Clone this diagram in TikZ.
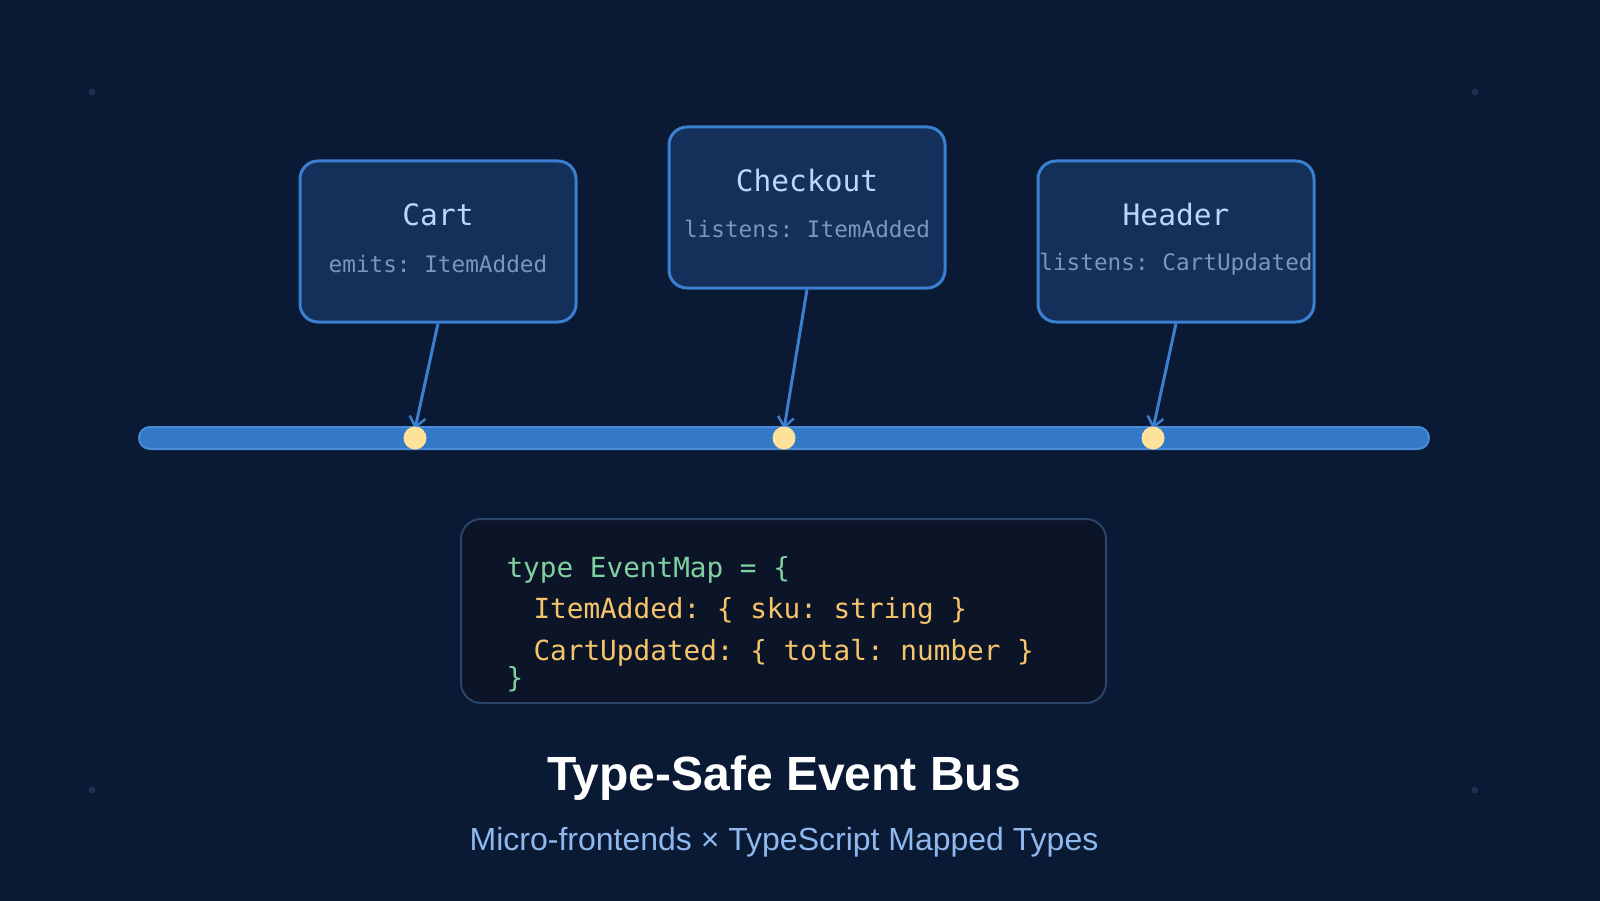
\documentclass[tikz,border=0pt]{standalone}
\usepackage{fontspec}
\setmainfont{Liberation Sans}
\newfontfamily\codefont{DejaVu Sans Mono}
\usetikzlibrary{arrows.meta}
\frenchspacing
\definecolor{bg}{HTML}{0A1A35}
\definecolor{boxfill}{HTML}{132F5A}
\definecolor{boxline}{HTML}{3A7FD0}
\definecolor{ttl}{HTML}{BCD6FA}
\definecolor{sub}{HTML}{7D96B8}
\definecolor{bus}{HTML}{3478C8}
\definecolor{busline}{HTML}{4A8AD6}
\definecolor{dot}{HTML}{FFE29A}
\definecolor{codebg}{HTML}{0C1528}
\definecolor{codeline}{HTML}{2C4468}
\definecolor{cgreen}{HTML}{7FD1A0}
\definecolor{cyellow}{HTML}{F5C56B}
\definecolor{subt}{HTML}{8FB8EE}
\definecolor{faint}{HTML}{1E3050}
\begin{document}
\frenchspacing
\begin{tikzpicture}[x=1pt,y=-1pt,
  mf/.style={draw=boxline,line width=3pt,fill=boxfill,rounded corners=18pt,minimum width=276pt,minimum height=161pt},
  ttlt/.style={text=ttl,font=\codefont\fontsize{29.5}{32}\selectfont},
  subtx/.style={text=sub,font=\codefont\fontsize{22.7}{26}\selectfont},
  conn/.style={draw=boxline,line width=3pt,-{Straight Barb[length=10pt,width=16pt,line width=2.5pt]}},
  bdot/.style={circle,fill=dot,inner sep=0pt,minimum size=23pt},
  code/.style={font=\codefont\fontsize{27.7}{30}\selectfont,anchor=base west}]
\fill[bg] (0,0) rectangle (1600,901);
\foreach \p in {(92,92),(1475,92),(92,790),(1475,790)} \fill[faint] \p circle (3.5);
% bus
\node[draw=busline,line width=2pt,fill=bus,rounded corners=11pt,minimum width=1290pt,minimum height=22pt,inner sep=0pt] (bus) at (784,438) {};
% modules
\node[mf] (cart) at (438,241.5) {};
\node[ttlt] at (438,215) {Cart};
\node[subtx] at (438,264) {emits: ItemAdded};
\node[mf] (checkout) at (807,207.5) {};
\node[ttlt] at (807,181) {Checkout};
\node[subtx] at (807,229) {listens: ItemAdded};
\node[mf] (header) at (1176,241.5) {};
\node[ttlt] at (1176,215) {Header};
\node[subtx] at (1176,264) {listens: CartUpdated};
% connection points
\coordinate (c1) at (415,429);
\coordinate (c2) at (784,429);
\coordinate (c3) at (1153,429);
\draw[conn] (cart.south) -- (c1);
\draw[conn] (checkout.south) -- (c2);
\draw[conn] (header.south) -- (c3);
\node[bdot] (d1) at (415,438) {};
\node[bdot] (d2) at (784,438) {};
\node[bdot] (d3) at (1153,438) {};
% code box
\node[draw=codeline,line width=2pt,fill=codebg,rounded corners=20pt,minimum width=645pt,minimum height=184pt] (codebox) at (783.5,611) {};
\node[code,text=cgreen] at (503,577) {type EventMap = \{};
\node[code,text=cyellow] at (530,618) {ItemAdded: \{ sku: string \}};
\node[code,text=cyellow] at (530,660) {CartUpdated: \{ total: number \}};
\node[code,text=cgreen] at (503,687) {\}};
% titles
\node[text=white,font=\bfseries\fontsize{48}{54}\selectfont] (title) at (784,778) {Type-Safe Event Bus};
\node[text=subt,font=\fontsize{32}{36}\selectfont] (subtitle) at (784,842) {Micro-frontends × TypeScript Mapped Types};
\pgfresetboundingbox
\useasboundingbox (0,0) rectangle (1600,901);
\end{tikzpicture}
\end{document}
